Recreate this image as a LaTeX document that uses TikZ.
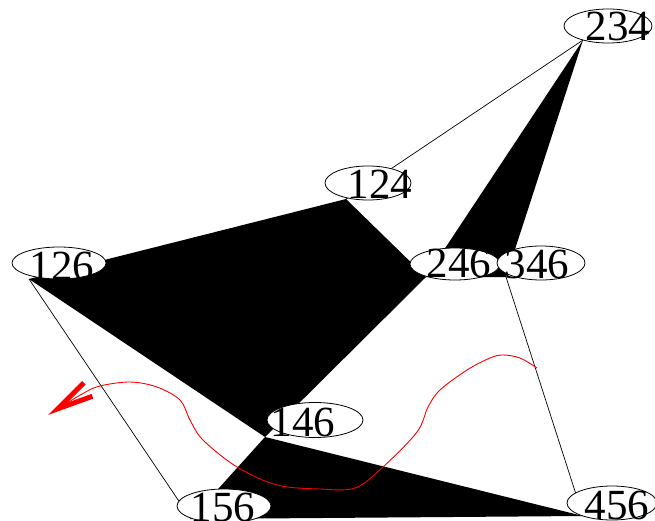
\documentclass[tikz,border=0pt]{standalone}
\usepackage{fontspec}
\setmainfont{Liberation Serif}
\usetikzlibrary{shapes.geometric,arrows.meta}
\begin{document}
\begin{tikzpicture}[x=1pt,y=-1pt,
  ell/.style={ellipse, draw=black, fill=white, line width=0.8pt, inner sep=0pt},
  num/.style={inner sep=0pt, font=\fontsize{43}{43}\selectfont},
  face/.style={fill=black},
  edgeline/.style={draw=black, line width=0.7pt},
  redcurve/.style={draw=red, line width=0.9pt, -{Straight Barb[length=36pt,width=16pt,line width=5pt]}}
]
\useasboundingbox (0,0) rectangle (655,521);
% vertex positions
\coordinate (v234) at (583,40);
\coordinate (v124) at (346,199);
\coordinate (v126) at (29,279);
\coordinate (v246) at (426,277);
\coordinate (v346) at (506,277);
\coordinate (v146) at (265,437);
\coordinate (v156) at (191,519);
\coordinate (v456) at (583,516);
% black faces
\fill[face] (v126) -- (v124) -- (v246) -- (v146) -- cycle;
\fill[face] (v234) -- (v246) -- (v346) -- cycle;
\fill[face] (v146) -- (v156) -- (v456) -- cycle;
% edges
\draw[edgeline] (v124) -- (v234);
\draw[edgeline] (v126) -- (v156);
\draw[edgeline] (v346) -- (v456);
% ellipses
\node[ell, minimum width=88pt, minimum height=34pt] (e234) at (608,26) {};
\node[ell, minimum width=86pt, minimum height=34pt] (e124) at (368,183) {};
\node[ell, minimum width=94pt, minimum height=32pt] (e126) at (59,263) {};
\node[ell, minimum width=90pt, minimum height=32pt] (e246) at (455,264) {};
\node[ell, minimum width=88pt, minimum height=34pt] (e346) at (541,263) {};
\node[ell, minimum width=96pt, minimum height=35pt] (e146) at (315,420) {};
\node[ell, minimum width=94pt, minimum height=34pt] (e156) at (224,506) {};
\node[ell, minimum width=90pt, minimum height=34pt] (e456) at (612,503) {};
% labels
\node[num] (t234) at (618,26) {234};
\node[num] (t124) at (380,184) {124};
\node[num] (t126) at (62,266) {126};
\node[num] (t246) at (459,263) {246};
\node[num] (t346) at (537,264) {346};
\node[num] (t146) at (303,422) {146};
\node[num] (t156) at (223,507) {156};
\node[num] (t456) at (617,505) {456};
% red curve
\draw[redcurve] plot[smooth, tension=0.55] coordinates {(537,368) (520,358) (503,355) (490,358) (467,370) (440,390) (428,407) (417,432) (383,467) (355,488) (320,489) (277,485) (237,467) (203,440) (190,420) (180,400) (157,387) (130,382) (100,386) (82,394) (48,415)};
\end{tikzpicture}
\end{document}
